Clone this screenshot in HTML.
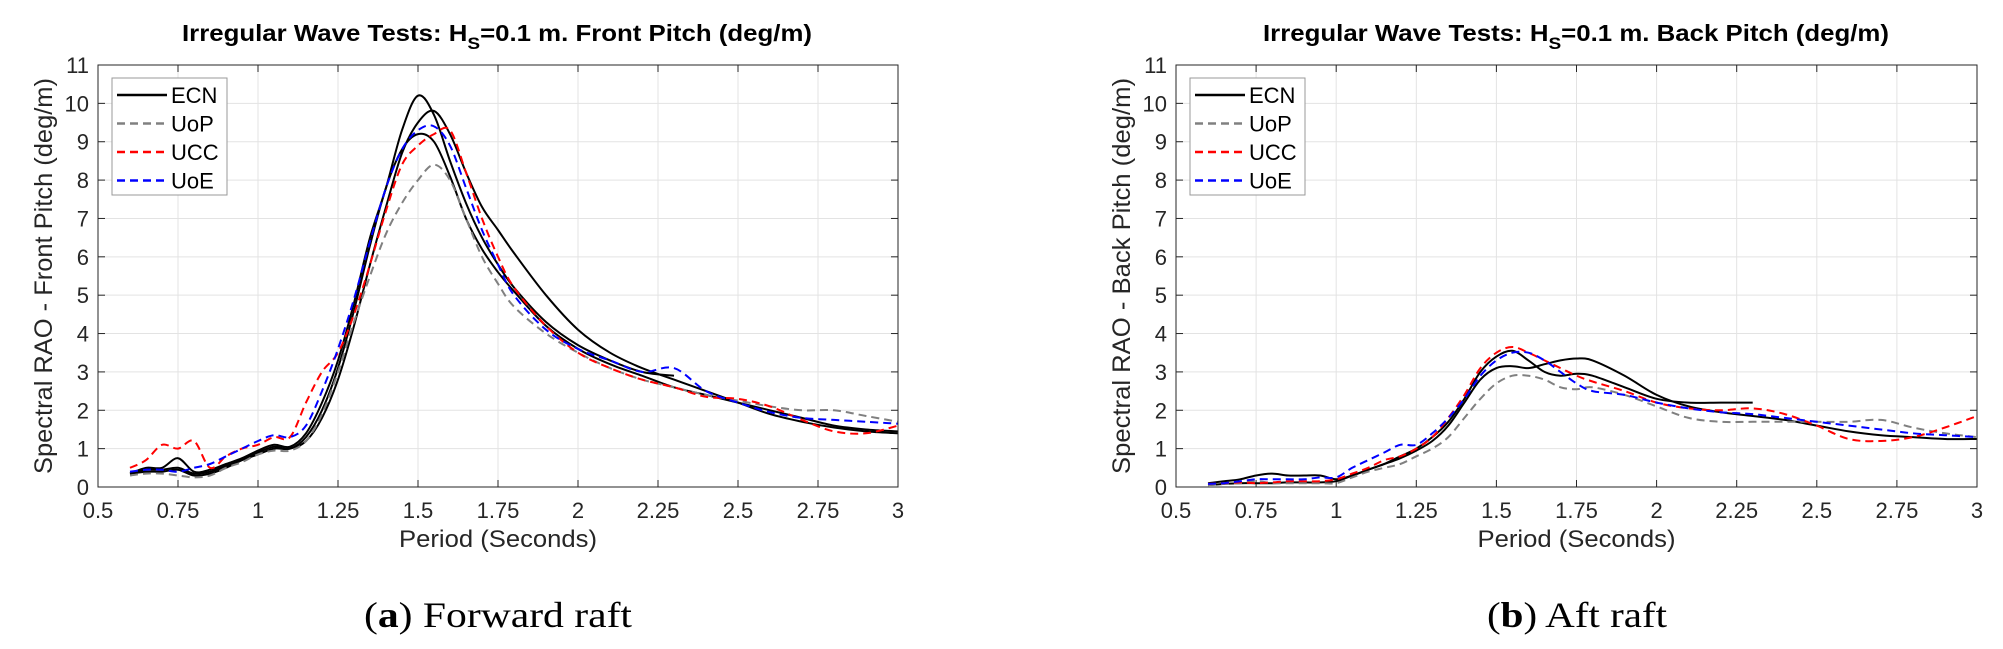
<!DOCTYPE html>
<html><head><meta charset="utf-8">
<style>
html,body{margin:0;padding:0;background:#fff;}
svg{display:block;}
text{font-family:"Liberation Sans",sans-serif;}
</style></head>
<body>
<svg id="fig" width="2003" height="649" viewBox="0 0 2003 649" xmlns="http://www.w3.org/2000/svg">
<g id="p0"></g>
<g id="p1"></g>
<text x="498" y="627" text-anchor="middle" font-size="36" textLength="268" lengthAdjust="spacingAndGlyphs" style="font-family:'Liberation Serif',serif">(<tspan font-weight="bold">a</tspan>) Forward raft</text>
<text x="1577" y="627" text-anchor="middle" font-size="36" textLength="180" lengthAdjust="spacingAndGlyphs" style="font-family:'Liberation Serif',serif">(<tspan font-weight="bold">b</tspan>) Aft raft</text>
</svg>
<script>
const periods=[0.6,0.65,0.7,0.75,0.8,0.85,0.9,0.95,1.0,1.05,1.1,1.15,1.2,1.25,1.3,1.35,1.4,1.45,1.5,1.55,1.6,1.65,1.7,1.75,1.8,1.9,2.0,2.1,2.2,2.3,2.4,2.5,2.6,2.7,2.8,2.9,3.0];
const xTicks=[0.5,0.75,1,1.25,1.5,1.75,2,2.25,2.5,2.75,3];
const xTickLabels=["0.5","0.75","1","1.25","1.5","1.75","2","2.25","2.5","2.75","3"];
const yTicks=[0,1,2,3,4,5,6,7,8,9,10,11];
const legendNames=["ECN","UoP","UCC","UoE"];
// Forward raft series
const frontECN1=[0.35,0.5,0.5,0.75,0.4,0.45,0.6,0.75,0.95,1.1,1.05,1.4,2.2,3.3,4.8,6.5,7.8,9.3,10.2,9.7,8.5,7.4,6.5,5.8,5.2,4.3,3.7,3.3,3.0,2.9,null,null,null,null,null,null,null];
const frontECN2=[0.35,0.4,0.4,0.45,0.3,0.35,0.5,0.7,0.85,1.0,1.0,1.2,1.8,2.8,4.2,5.8,7.3,8.7,9.5,9.8,9.2,8.2,7.3,6.7,6.1,5.0,4.1,3.5,3.1,2.8,2.5,2.2,1.9,1.7,1.55,1.45,1.4];
const frontECN3=[0.35,0.45,0.45,0.5,0.35,0.4,0.55,0.7,0.9,1.05,1.0,1.3,2.0,3.1,4.6,6.3,7.8,8.8,9.2,9.0,8.1,7.0,6.2,5.6,5.1,4.2,3.6,3.2,2.9,2.6,2.4,2.2,2.0,1.8,1.6,1.5,1.45];
const frontUoP=[0.3,0.35,0.35,0.3,0.25,0.3,0.5,0.65,0.85,0.95,0.95,1.2,1.9,3.0,4.3,5.5,6.6,7.4,8.0,8.4,8.0,7.0,6.0,5.3,4.7,4.0,3.5,3.1,2.8,2.6,2.4,2.25,2.1,2.0,2.0,1.85,1.7];
const frontUCC=[0.5,0.7,1.1,1.0,1.2,0.5,0.8,1.0,1.1,1.3,1.3,2.2,3.0,3.5,4.5,5.8,7.2,8.4,8.9,9.2,9.3,8.2,7.0,6.0,5.2,4.2,3.5,3.1,2.8,2.6,2.35,2.3,2.1,1.75,1.45,1.4,1.6];
const frontUoE=[0.4,0.45,0.45,0.4,0.5,0.6,0.8,1.0,1.2,1.35,1.3,1.6,2.5,3.6,4.9,6.4,7.8,8.8,9.3,9.4,8.9,7.8,6.7,5.8,5.0,4.1,3.6,3.3,3.0,3.1,2.5,2.2,1.95,1.8,1.75,1.7,1.65];
// Aft raft series
const backECN1=[0.1,0.15,0.2,0.3,0.35,0.3,0.3,0.3,0.2,0.3,0.45,0.6,0.8,1.0,1.3,1.7,2.3,3.0,3.4,3.55,3.3,3.0,2.9,2.95,2.9,2.6,2.3,2.2,2.2,2.2,null,null,null,null,null,null,null];
const backECN2=[0.05,0.08,0.1,0.1,0.1,0.12,0.12,0.12,0.15,0.3,0.45,0.6,0.75,0.95,1.2,1.6,2.2,2.8,3.1,3.15,3.1,3.2,3.3,3.35,3.3,2.9,2.4,2.1,1.95,1.85,1.75,1.6,1.45,1.35,1.3,1.25,1.25];
const backUoP=[0.05,0.08,0.1,0.15,0.1,0.1,0.1,0.1,0.1,0.25,0.4,0.5,0.6,0.8,1.0,1.3,1.8,2.3,2.7,2.9,2.9,2.8,2.6,2.55,2.6,2.4,2.1,1.8,1.7,1.7,1.7,1.7,1.7,1.75,1.55,1.4,1.3];
const backUCC=[0.08,0.1,0.12,0.1,0.12,0.15,0.15,0.15,0.2,0.35,0.5,0.7,0.8,1.0,1.3,1.8,2.4,3.1,3.5,3.65,3.5,3.3,3.1,2.9,2.75,2.5,2.2,2.05,2.0,2.05,1.9,1.6,1.25,1.2,1.3,1.55,1.85];
const backUoE=[0.08,0.1,0.15,0.2,0.2,0.2,0.2,0.25,0.25,0.5,0.7,0.9,1.1,1.1,1.4,1.8,2.3,2.9,3.3,3.5,3.5,3.3,3.0,2.7,2.5,2.4,2.2,2.05,1.95,1.9,1.8,1.7,1.6,1.5,1.4,1.35,1.3];

const NS="http://www.w3.org/2000/svg";
function mk(parent,tag,attrs,txt){const e=document.createElementNS(NS,tag);for(const k in attrs)e.setAttribute(k,attrs[k]);if(txt!=null)e.textContent=txt;parent.appendChild(e);return e;}
const styles={ECN:{stroke:"#000",dash:""},UoP:{stroke:"#808080",dash:"8 5"},UCC:{stroke:"#ff0000",dash:"8 5"},UoE:{stroke:"#0000ff",dash:"8 5"}};

function smoothPath(pts){
  if(pts.length<2)return "";
  let d="M"+pts[0][0].toFixed(1)+","+pts[0][1].toFixed(1);
  for(let i=0;i<pts.length-1;i++){
    const p0=pts[Math.max(0,i-1)],p1=pts[i],p2=pts[i+1],p3=pts[Math.min(pts.length-1,i+2)];
    const c1x=p1[0]+(p2[0]-p0[0])/6,c1y=p1[1]+(p2[1]-p0[1])/6;
    const c2x=p2[0]-(p3[0]-p1[0])/6,c2y=p2[1]-(p3[1]-p1[1])/6;
    d+="C"+c1x.toFixed(1)+","+c1y.toFixed(1)+" "+c2x.toFixed(1)+","+c2y.toFixed(1)+" "+p2[0].toFixed(1)+","+p2[1].toFixed(1);
  }
  return d;
}

function drawPanel(g,box,title,titleCenter,titleLen,ylabel,ylabelX,series,legendX){
  const L=box.l,R=box.r,T=box.t,B=box.b;
  const xs=v=>L+(v-0.5)/2.5*(R-L);
  const ys=v=>B-v/11*(B-T);
  mk(g,"rect",{x:L,y:T,width:R-L,height:B-T,fill:"#fff"});
  xTicks.forEach((v,i)=>{
    const gl=mk(g,"line",{x1:xs(v),x2:xs(v),y1:T,y2:B,stroke:"#e3e3e3","stroke-width":1});
    
    
    mk(g,"line",{x1:xs(v),x2:xs(v),y1:B,y2:B-7,stroke:"#262626"});
    mk(g,"line",{x1:xs(v),x2:xs(v),y1:T,y2:T+7,stroke:"#262626"});
    const t=mk(g,"text",{x:xs(v),y:B+31,"text-anchor":"middle","font-size":22,fill:"#262626"},xTickLabels[i]);
    
    
  });
  yTicks.forEach(v=>{
    const gl=mk(g,"line",{x1:L,x2:R,y1:ys(v),y2:ys(v),stroke:"#e3e3e3","stroke-width":1});
    
    
    mk(g,"line",{x1:L,x2:L+7,y1:ys(v),y2:ys(v),stroke:"#262626"});
    mk(g,"line",{x1:R,x2:R-7,y1:ys(v),y2:ys(v),stroke:"#262626"});
    const t=mk(g,"text",{x:L-9,y:ys(v)+8,"text-anchor":"end","font-size":22,fill:"#262626"},String(v));
    
    
  });
  series.forEach(s=>{
    const st=styles[s.name];let segs=[];let cur=[];
    s.values.forEach((v,i)=>{if(v==null){if(cur.length)segs.push(cur);cur=[];return;}cur.push([xs(periods[i]),ys(v)]);});
    if(cur.length)segs.push(cur);
    const d=segs.map(smoothPath).join("");
    const p=mk(g,"path",{d:d,fill:"none",stroke:st.stroke,"stroke-width":2,"stroke-dasharray":st.dash,"stroke-linejoin":"round"});
    
    
  });
  mk(g,"rect",{x:L,y:T,width:R-L,height:B-T,fill:"none",stroke:"#262626","stroke-width":1});
  const tt=mk(g,"text",{x:titleCenter,y:41,"text-anchor":"middle","font-size":23,"font-weight":"bold",fill:"#000",textLength:titleLen,lengthAdjust:"spacingAndGlyphs"});
  
  
  mk(tt,"tspan",{},title[0]);mk(tt,"tspan",{dy:8,"font-size":17},"S");mk(tt,"tspan",{dy:-8},title[1]);
  const xl=mk(g,"text",{x:(L+R)/2,y:547,"text-anchor":"middle","font-size":24,fill:"#262626",textLength:198,lengthAdjust:"spacingAndGlyphs"},"Period (Seconds)");
  
  
  const yl=mk(g,"text",{x:0,y:0,"text-anchor":"middle","font-size":25,fill:"#262626",textLength:396,lengthAdjust:"spacingAndGlyphs",transform:`translate(${ylabelX},${(T+B)/2+0}) rotate(-90)`},ylabel);
  
  
  const lg=mk(g,"g",{});
  
  
  mk(lg,"rect",{x:legendX,y:78,width:115,height:117,fill:"#fff",stroke:"#999","stroke-width":1});
  legendNames.forEach((n,i)=>{
    const st=styles[n];const y=95+i*28.5;
    const e=mk(lg,"g",{});
    
    
    mk(e,"line",{x1:legendX+5,x2:legendX+55,y1:y,y2:y,stroke:st.stroke,"stroke-width":2.5,"stroke-dasharray":st.dash});
    mk(e,"text",{x:legendX+59,y:y+8,"font-size":22,fill:"#000"},n);
  });
}
drawPanel(document.getElementById("p0"),{l:98,r:898,t:65,b:487},["Irregular Wave Tests: H","=0.1 m. Front Pitch (deg/m)"],497,630,"Spectral RAO - Front Pitch (deg/m)",52,
 [{name:"ECN",values:frontECN1},{name:"ECN",values:frontECN2},{name:"ECN",values:frontECN3},{name:"UoP",values:frontUoP},{name:"UCC",values:frontUCC},{name:"UoE",values:frontUoE}],112);
drawPanel(document.getElementById("p1"),{l:1176,r:1977,t:65,b:487},["Irregular Wave Tests: H","=0.1 m. Back Pitch (deg/m)"],1576,626,"Spectral RAO - Back Pitch (deg/m)",1130,
 [{name:"ECN",values:backECN1},{name:"ECN",values:backECN2},{name:"UoP",values:backUoP},{name:"UCC",values:backUCC},{name:"UoE",values:backUoE}],1190);
</script>
</body></html>
